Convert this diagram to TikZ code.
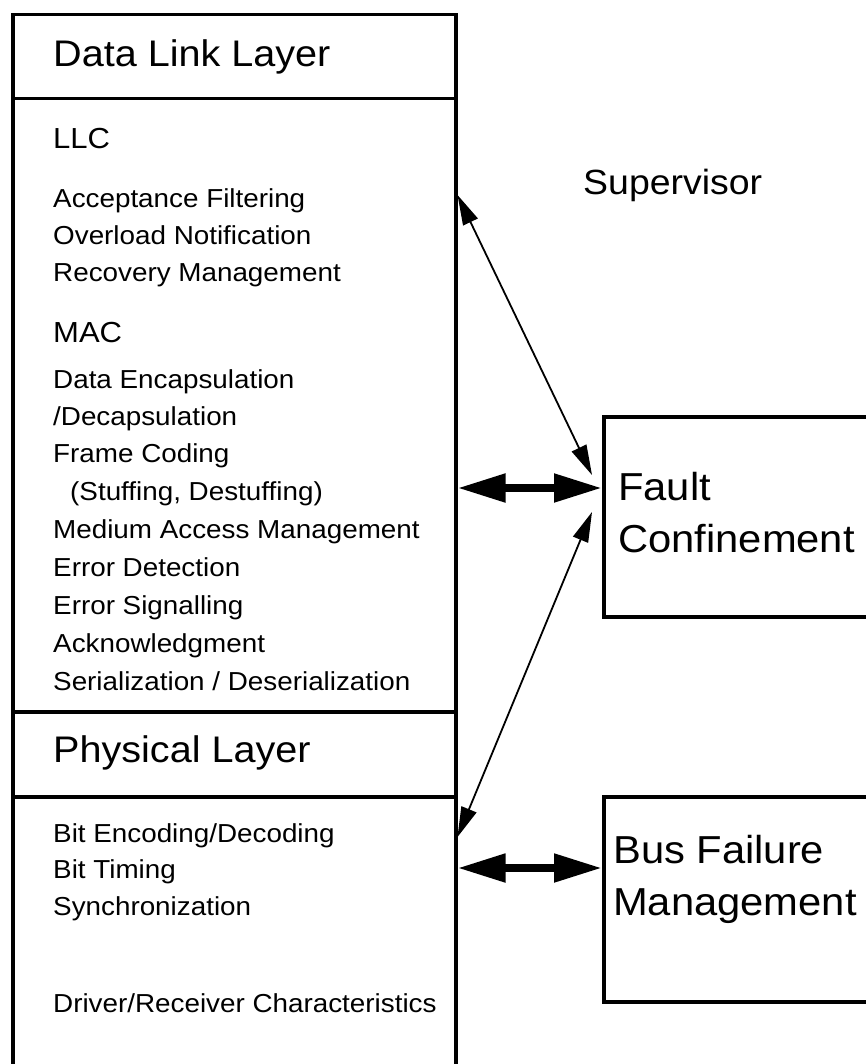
\documentclass[tikz,border=0pt]{standalone}
\usepackage{fontspec}
\setmainfont{Liberation Sans}[FakeStretch=1.07]
\usetikzlibrary{arrows.meta}
\begin{document}
\begin{tikzpicture}[x=1pt,y=-1pt,
  frame/.style={draw=black,line width=3.5pt,anchor=north west,inner sep=0pt},
  item/.style={anchor=base west,inner sep=0pt,font=\fontsize{26}{30}\selectfont},
  sub/.style={anchor=base west,inner sep=0pt,font=\fontsize{29}{34}\selectfont},
  head/.style={anchor=base west,inner sep=0pt,font=\fontsize{37}{42}\selectfont},
  big/.style={anchor=base west,inner sep=0pt,font=\fontsize{39}{46}\selectfont},
  thin link/.style={{Triangle[length=30pt,width=16pt]}-{Triangle[length=30pt,width=16pt]},line width=1.8pt},
  fat link/.style={{Triangle[length=48pt,width=27pt]}-{Triangle[length=48pt,width=27pt]},line width=8pt}]
\useasboundingbox (0,0) rectangle (866,1064);
\clip (0,0) rectangle (866,1064);
\node [frame,minimum width=443pt,minimum height=84pt] (dllhead) at (11,13) {};
\node [frame,minimum width=443pt,minimum height=613pt] (dllbody) at (11,97) {};
\node [frame,minimum width=443pt,minimum height=85pt] (phyhead) at (11,710) {};
\node [frame,minimum width=443pt,minimum height=320pt] (phybody) at (11,795) {};
\node [frame,minimum width=300pt,minimum height=200pt] (fault) at (602,415) {};
\node [frame,minimum width=300pt,minimum height=205pt] (bus) at (602,795) {};
\node [head] (dlltxt) at (53,67) {Data Link Layer};
\node [sub] (llc) at (53,149) {LLC};
\node [item] (acc) at (53,208) {Acceptance Filtering};
\node [item] (ovl) at (53,245) {Overload Notification};
\node [item] (rec) at (53,282) {Recovery Management};
\node [sub] (mac) at (53,342) {MAC};
\node [item] (enc) at (53,388) {Data Encapsulation};
\node [item] (dec) at (53,425) {/Decapsulation};
\node [item] (frm) at (53,462) {Frame Coding};
\node [item] (stf) at (70,500) {(Stuffing, Destuffing)};
\node [item] (med) at (53,538) {Medium Access Management};
\node [item] (edt) at (53,576) {Error Detection};
\node [item] (esg) at (53,614) {Error Signalling};
\node [item] (ack) at (53,652) {Acknowledgment};
\node [item] (ser) at (53,690) {Serialization / Deserialization};
\node [head] (phytxt) at (53,762) {Physical Layer};
\node [item] (bit) at (53,842) {Bit Encoding/Decoding};
\node [item] (tim) at (53,878) {Bit Timing};
\node [item] (syn) at (53,915) {Synchronization};
\node [item] (drv) at (53,1012) {Driver/Receiver Characteristics};
\node [anchor=base west,inner sep=0pt,font=\fontsize{35}{42}\selectfont] (sup) at (583,195) {Supervisor};
\node [big] (fctxt) at (618,500) {Fault};
\node [big] (fctxt2) at (618,552) {Confinement};
\node [big] (bustxt) at (613,863) {Bus Failure};
\node [big] (bustxt2) at (613,915) {Management};
\coordinate (dllup) at (dllbody.east |- 0,195);
\coordinate (fcup) at (592,475);
\coordinate (fclow) at (592,512);
\coordinate (phyup) at (phybody.east |- 0,837);
\draw [thin link] (dllup) -- (fcup);
\draw [thin link] (fclow) -- (phyup);
\draw [fat link] (dllbody.east |- 0,488) -- (fault.west |- 0,488);
\draw [fat link] (phybody.east |- 0,868) -- (bus.west |- 0,868);
\end{tikzpicture}
\end{document}
